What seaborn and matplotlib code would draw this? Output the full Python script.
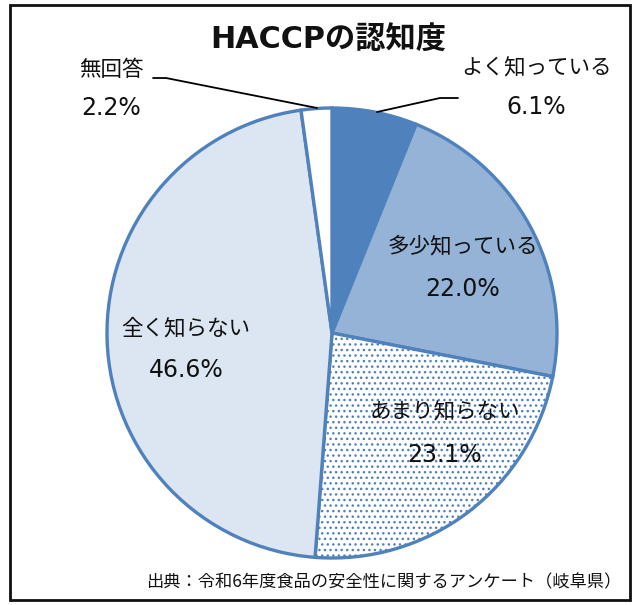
import matplotlib
matplotlib.use("Agg")
import matplotlib.pyplot as plt
import seaborn as sns
from matplotlib.patches import Rectangle

sns.set_theme(style="white")
plt.rcParams['font.family'] = ['Noto Sans CJK JP', 'DejaVu Sans']
plt.rcParams['hatch.linewidth'] = 1.0

categories = ["よく知っている", "多少知っている", "あまり知らない", "全く知らない", "無回答"]
values = [6.1, 22.0, 23.1, 46.6, 2.2]
colors = ["#4F81BD", "#95B3D7", "#FFFFFF", "#DCE6F2", "#FFFFFF"]
hatches = [None, None, "...", None, None]
title = "HACCPの認知度"
source = "出典：令和6年度食品の安全性に関するアンケート（岐阜県）"

W, H = 632, 605
fig = plt.figure(figsize=(W / 100, H / 100), dpi=100)
ax = fig.add_axes([0, 0, 1, 1])

cx, cy, r = 332, H - 333, 225
wedges, _ = ax.pie(values, colors=colors, startangle=90, counterclock=False,
                   center=(cx, cy), radius=r, frame=True,
                   wedgeprops=dict(edgecolor="#4F81BD", linewidth=2.4))
for w, h in zip(wedges, hatches):
    if h:
        w.set_hatch(h)

ax.set_xlim(0, W)
ax.set_ylim(0, H)
ax.set_aspect("equal")
ax.axis("off")

# label positions (pixel layout)
label_pos = [(536, 68, 107), (463, 246, 289), (445, 412, 455), (186, 328, 370), (111, 70, 108)]
num_font = ['DejaVu Sans', 'Noto Sans CJK JP']
for name, v, (x, y1, y2) in zip(categories, values, label_pos):
    ax.text(x, H - y1, name, ha="center", va="center", fontsize=15.5, color="#111111")
    ax.text(x, H - y2, f"{v:.1f}%", ha="center", va="center", fontsize=17,
            family=num_font, color="#111111")

# leader lines
ax.plot([377, 440, 458], [H - 112, H - 98, H - 98], color="black", lw=1.3)
ax.plot([317, 166, 153], [H - 108, H - 78, H - 78], color="black", lw=1.3)

ax.text(328, H - 40, title, ha="center", va="center", fontsize=21.8, fontweight="bold",
        family=['DejaVu Sans', 'Noto Sans CJK JP'], color="#111111")
ax.text(384, H - 582, source, ha="center", va="center", fontsize=12.4, color="#111111")

fig.add_artist(Rectangle((10 / W, 5 / H), 620 / W, 595 / H, transform=fig.transFigure,
                         fill=False, edgecolor="#111111", linewidth=2))

fig.savefig("out.png", dpi=100)
